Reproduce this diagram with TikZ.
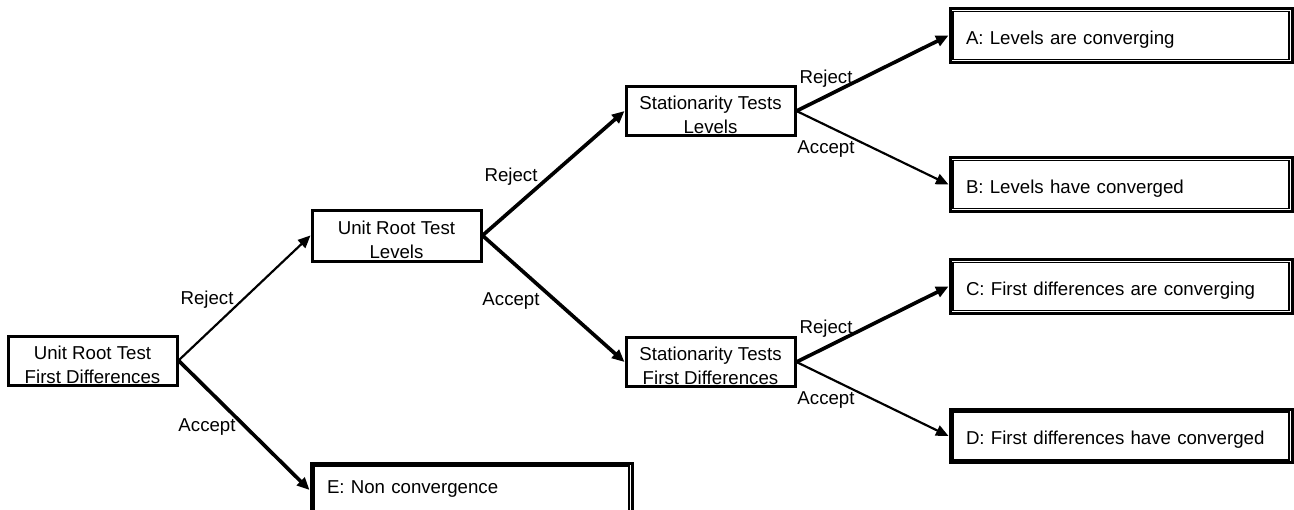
\documentclass[tikz,border=0pt]{standalone}
\usepackage{fontspec}
\setmainfont{Liberation Sans}
\usetikzlibrary{arrows.meta}
\tikzset{
  test/.style={draw, line width=1.8pt, minimum width=101.4pt, minimum height=29.4pt, inner sep=0pt, text height=27.2pt, align=center},
  outcome/.style={draw, line width=1.8pt, minimum width=205.2pt, minimum height=32pt, inner xsep=9.6pt, inner ysep=0pt, text height=12.9pt, text width=186pt, align=left},
  lbl/.style={inner sep=0pt},
  thinarrow/.style={line width=1.3pt, -{Triangle[length=7.5pt,width=6.5pt]}},
  thickarrow/.style={line width=2.2pt, -{Triangle[length=7.5pt,width=6.5pt]}}
}
\begin{document}
\begin{tikzpicture}[x=0.6pt, y=-0.6pt, font=\fontsize{11.2}{14.4}\selectfont]
\useasboundingbox (0,0) rectangle (1294,510);
\node[test] (urfd) at (92.5,360.5) {Unit Root Test\\First Differences};
\node[test, minimum height=30.6pt] (url) at (396.5,235.5) {Unit Root Test\\Levels};
\node[test] (sl) at (710.5,111) {Stationarity Tests\\Levels};
\node[test] (sfd) at (710.5,362) {Stationarity Tests\\First Differences};
\node[outcome] (a) at (1121,35.5) {A: Levels are converging};
\node[outcome] (b) at (1121,184.5) {B: Levels have converged};
\node[outcome] (c) at (1121,286.5) {C: First differences are converging};
\node[outcome] (d) at (1121,436) {D: First differences have converged};
\node[outcome, minimum width=192.6pt, text width=173.4pt, text height=6pt] (e) at (471.5,490) {E: Non convergence};
\foreach \n in {a,b,c,d,e}
  \draw[line width=0.9pt] ([shift={(2.6pt,2.6pt)}]\n.south west) rectangle ([shift={(-2.6pt,-2.6pt)}]\n.north east);
\node[lbl] (rej1) at (207,300) {Reject};
\node[lbl] (acc1) at (207,427) {Accept};
\node[lbl] (rej2) at (511,177) {Reject};
\node[lbl] (acc2) at (511,301) {Accept};
\node[lbl] (rej3) at (826,79) {Reject};
\node[lbl] (acc3) at (826,149) {Accept};
\node[lbl] (rej4) at (826,329) {Reject};
\node[lbl] (acc4) at (826,400) {Accept};
\draw[thinarrow] (urfd.east) -- (url.west);
\draw[thickarrow] (urfd.east) -- (e.west);
\draw[thickarrow] (url.east) -- (sl.west);
\draw[thickarrow] (url.east) -- (sfd.west);
\draw[thickarrow] (sl.east) -- (a.west);
\draw[thinarrow] (sl.east) -- (b.west);
\draw[thickarrow] (sfd.east) -- (c.west);
\draw[thinarrow] (sfd.east) -- (d.west);
\end{tikzpicture}
\end{document}
